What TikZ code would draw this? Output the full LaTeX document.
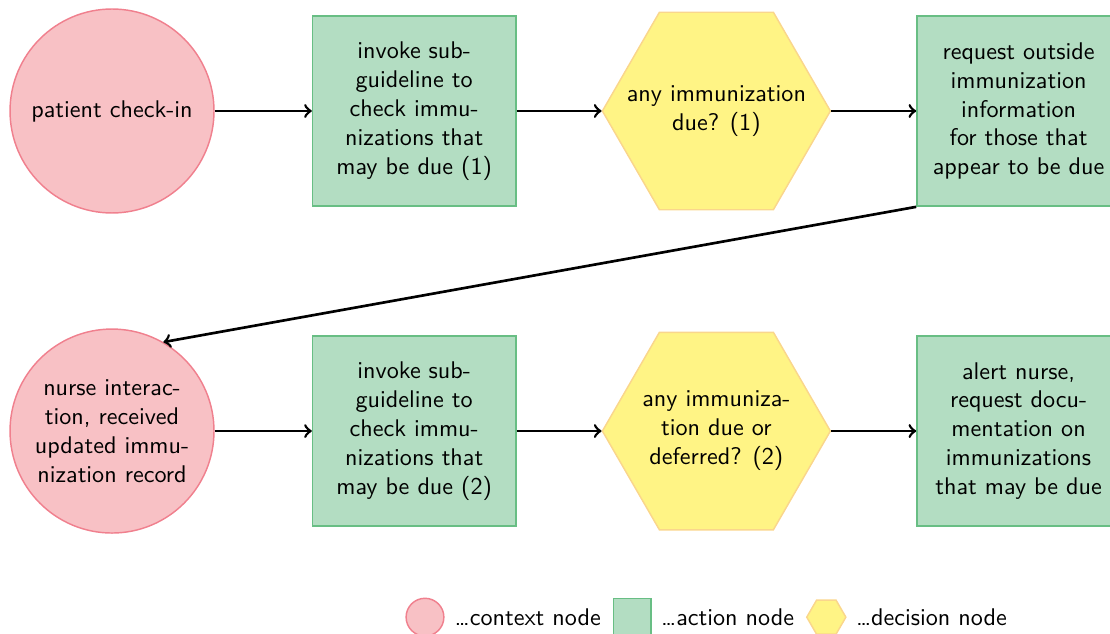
\documentclass[tikz,border=0pt]{standalone}
\usepackage{tikz}
\usetikzlibrary{arrows, positioning, shapes.geometric}
\definecolor{ctxfill}{RGB}{248,193,197}
\definecolor{ctxline}{RGB}{240,128,142}
\definecolor{actfill}{RGB}{179,221,194}
\definecolor{actline}{RGB}{104,190,132}
\definecolor{decfill}{RGB}{255,244,133}
\definecolor{decline}{RGB}{250,214,140}
\tikzset{
  context/.style={circle, draw=ctxline, fill=ctxfill, semithick, minimum size=2.97cm, inner sep=1pt, align=center},
  action/.style={rectangle, draw=actline, fill=actfill, semithick, minimum width=2.96cm, minimum height=2.77cm, inner sep=2pt, align=center},
  decision/.style={regular polygon, regular polygon sides=6, draw=decline, fill=decfill, semithick, minimum size=3.32cm, inner sep=0pt},
  dectext/.style={label={[align=center]center:#1}},
  legend/.style={on grid=false}
}
\begin{document}
\begin{tikzpicture}[>=to, line width=1.1pt, node distance=4.66cm and 4.4cm, on grid, font=\sffamily]
            \useasboundingbox (-1.631,1.616) rectangle (14.531,-7.615);
            % first row
            \node[context]  (ci)                       {patient check-in};
            \node[action]   (sub1) [right =of ci]      {invoke sub-\\guideline to\\check immu-\\nizations that\\may be due (1)};
            \node[decision, dectext={any immunization\\due? (1)}] (due1) [right =of sub1] {};
            \node[action]   (req)  [right =of due1]    {request outside\\immunization\\information\\for those that\\appear to be due};
            % second row
            \node[context]  (nurse) [below =of ci]     {nurse interac-\\tion, received\\updated immu-\\nization record};
            \node[action]   (sub2) [right =of nurse]   {invoke sub-\\guideline to\\check immu-\\nizations that\\may be due (2)};
            \node[decision, dectext={any immuniza-\\tion due or\\deferred? (2)}] (due2) [right =of sub2] {};
            \node[action]   (alert) [right =of due2]   {alert nurse,\\request docu-\\mentation on\\immunizations\\that may be due};
            \path[->] (ci)    edge (sub1);
            \path[->] (sub1)  edge (due1);
            \path[->] (due1)  edge (req);
            \path[->] (req.south west) edge (nurse.60);
            \path[->] (nurse) edge (sub2);
            \path[->] (sub2)  edge (due2);
            \path[->] (due2)  edge (alert);
            % legend
            \node[context, minimum size=0.55cm] (lctx) at (4.557,-7.37) {};
            \node[legend, right =0.3pt of lctx] (lctxt) {\ldots context node};
            \node[action, legend, minimum width=0.55cm, minimum height=0.55cm, right =1pt of lctxt] (lact) {};
            \node[legend, right =0pt of lact] (lactt) {\ldots action node};
            \node[decision, legend, minimum size=0.57cm, right =1pt of lactt] (ldec) {};
            \node[legend, right =0pt of ldec] (ldect) {\ldots decision node};
\end{tikzpicture}
\end{document}
